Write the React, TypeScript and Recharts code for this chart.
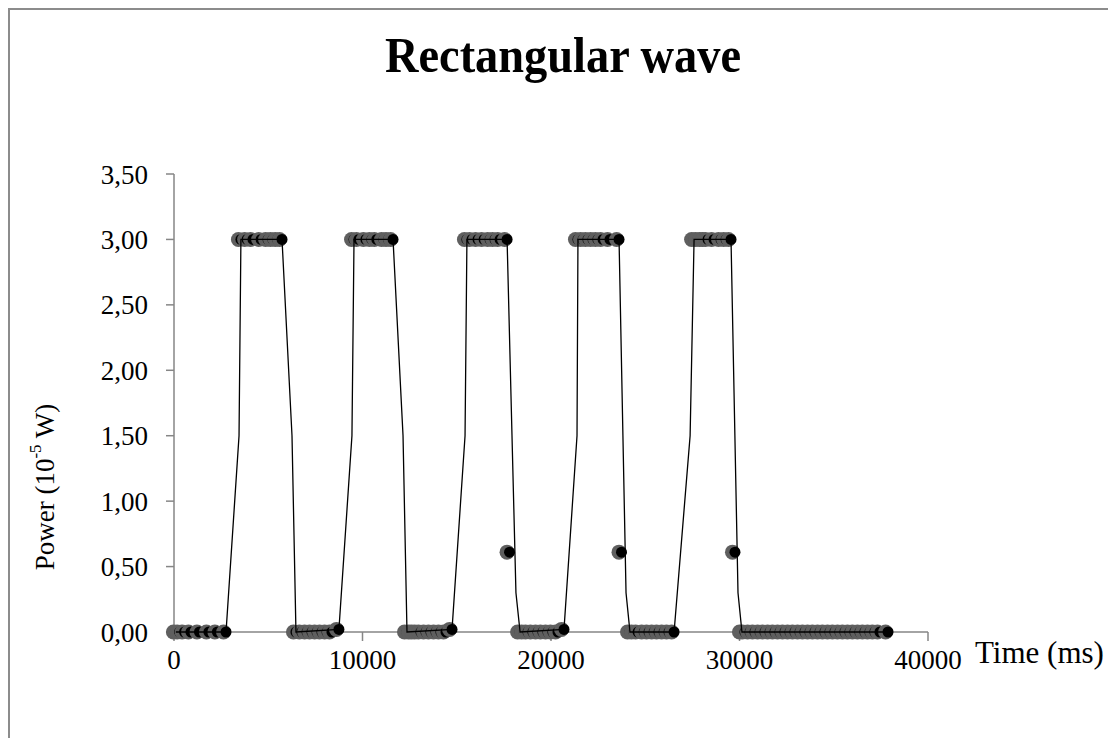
import { Label, Scatter, ScatterChart, XAxis, YAxis } from "recharts";

const FONT = "'Liberation Serif', 'Times New Roman', serif";
const AXIS_GREY = "#868686";

// sampled points (time in ms, power in 1e-5 W), one line per pulse section
const markerTime = [
  100, 300, 560, 900, 1350, 1850, 2300, 2760,
  3550, 3880, 4190, 4620, 4990, 5250, 5500, 5730,
  6470, 6780, 7060, 7320, 7590, 7850, 8120, 8380, 8750,
  9550, 9810, 10180, 10500, 10760, 11140, 11380, 11620,
  12360, 12570, 12730, 12900, 13100, 13370, 13630, 13900, 14160, 14430, 14750,
  15540, 15810, 16130, 16450, 16770, 17030, 17300, 17670, 17800,
  18360, 18570, 18780, 19040, 19310, 19570, 19840, 20100, 20370, 20690,
  21430, 21700, 21960, 22230, 22490, 22760, 23130, 23610, 23740,
  24190, 24400, 24620, 24940, 25200, 25470, 25730, 26000, 26260, 26530,
  27590, 27800, 28010, 28170, 28330, 28650, 29020, 29290, 29550, 29760,
  30130, 30290, 30560, 30820, 31090, 31350, 31620, 31880, 32150, 32410,
  32680, 32940, 33210, 33470, 33740, 34000, 34270, 34530, 34800, 35060,
  35330, 35590, 35860, 36120, 36390, 36650, 36920, 37180, 37450, 37880,
];
const markerPower = [
  0, 0, 0, 0, 0, 0, 0, 0,
  3, 3, 3, 3, 3, 3, 3, 3,
  0, 0, 0, 0, 0, 0, 0, 0, 0.02,
  3, 3, 3, 3, 3, 3, 3, 3,
  0, 0, 0, 0, 0, 0, 0, 0, 0, 0, 0.02,
  3, 3, 3, 3, 3, 3, 3, 3, 0.61,
  0, 0, 0, 0, 0, 0, 0, 0, 0, 0.02,
  3, 3, 3, 3, 3, 3, 3, 3, 0.61,
  0, 0, 0, 0, 0, 0, 0, 0, 0, 0,
  3, 3, 3, 3, 3, 3, 3, 3, 3, 0.61,
  0, 0, 0, 0, 0, 0, 0, 0, 0, 0,
  0, 0, 0, 0, 0, 0, 0, 0, 0, 0,
  0, 0, 0, 0, 0, 0, 0, 0, 0, 0,
];

// corners of the connecting trace
const lineTime = [
  100, 2760, 3450, 3550, 5730, 6260, 6470, 8750, 9440, 9550, 11620, 12150, 12360,
  14750, 15440, 15540, 17670, 18140, 18360, 20690, 21380, 21430, 23610, 23980,
  24190, 26530, 27380, 27590, 29550, 29920, 30130, 37880,
];
const linePower = [
  0, 0, 1.5, 3, 3, 1.5, 0, 0.02, 1.5, 3, 3, 1.5, 0,
  0.02, 1.5, 3, 3, 0.3, 0, 0.02, 1.5, 3, 3, 0.3,
  0, 0, 1.5, 3, 3, 0.3, 0, 0,
];

const xTicks = [0, 10000, 20000, 30000, 40000];
const yTicks = [0, 0.5, 1, 1.5, 2, 2.5, 3, 3.5];

const markers = markerTime.map((t, i) => ({ t, p: markerPower[i] }));
const trace = lineTime.map((t, i) => ({ t, p: linePower[i] }));

const fmtPower = (v: number) => v.toFixed(2).replace(".", ",");

// black dot with a grey shadow pushed slightly to the left
function Dot(props: any) {
  const { cx, cy } = props;
  if (cx == null || cy == null) return <g />;
  return (
    <g>
      <circle cx={cx - 2.5} cy={cy} r={7.5} fill="#5f5f5f" />
      <circle cx={cx} cy={cy} r={5.5} fill="#000" />
    </g>
  );
}

const NoShape = () => <g />;

export default function App() {
  return (
    <div
      style={{
        position: "relative",
        width: 1108,
        height: 730,
        borderTop: "2px solid #8c8c8c",
        borderLeft: "2px solid #8c8c8c",
        boxSizing: "border-box",
        background: "#fff",
        overflow: "hidden",
      }}
    >
      <svg
        width={1108}
        height={100}
        style={{ position: "absolute", left: -2, top: -2 }}
      >
        <text
          x={555}
          y={64}
          textAnchor="middle"
          fontFamily={FONT}
          fontWeight="bold"
          fontSize={50}
          textLength={356}
          lengthAdjust="spacingAndGlyphs"
          fill="#000"
        >
          Rectangular wave
        </text>
      </svg>
      <div style={{ position: "absolute", left: -2, top: -2 }}>
        <ScatterChart
          width={1100}
          height={700}
          margin={{ top: 166, right: 180, left: 106, bottom: 36 }}
        >
          <XAxis
            type="number"
            dataKey="t"
            domain={[0, 40000]}
            ticks={xTicks}
            interval={0}
            stroke={AXIS_GREY}
            strokeWidth={1.5}
            tickSize={9}
            tickMargin={9}
            height={40}
            tick={{ fill: "#000", fontSize: 27, fontFamily: FONT }}
          >
            <Label
              content={() => (
                <text x={967} y={655} fontFamily={FONT} fontSize={31} fill="#000">
                  Time (ms)
                </text>
              )}
            />
          </XAxis>
          <YAxis
            type="number"
            dataKey="p"
            domain={[0, 3.5]}
            ticks={yTicks}
            interval={0}
            width={60}
            stroke={AXIS_GREY}
            strokeWidth={1.5}
            tickSize={8}
            tickMargin={18}
            tickFormatter={fmtPower}
            tick={{ fill: "#000", fontSize: 27, fontFamily: FONT }}
          >
            <Label
              content={() => (
                <text
                  x={37}
                  y={479}
                  transform="rotate(-90 37 479)"
                  textAnchor="middle"
                  dominantBaseline="central"
                  fontFamily={FONT}
                  fontSize={27}
                  fill="#000"
                >
                  Power (10
                  <tspan dy={-10} fontSize={17}>
                    -5
                  </tspan>
                  <tspan dy={10}> W)</tspan>
                </text>
              )}
            />
          </YAxis>
          <Scatter data={markers} shape={Dot} isAnimationActive={false} />
          <Scatter
            data={trace}
            line={{ stroke: "#000", strokeWidth: 1.3 }}
            shape={NoShape}
            isAnimationActive={false}
          />
        </ScatterChart>
      </div>
    </div>
  );
}
